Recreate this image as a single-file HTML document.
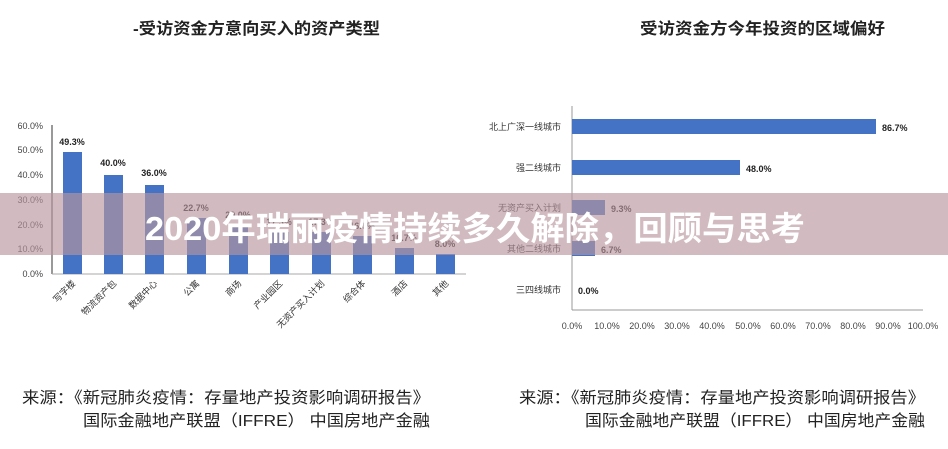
<!DOCTYPE html><html><head><meta charset="utf-8"><style>
body{margin:0;width:948px;height:449px;background:#fff;overflow:hidden;position:relative;font-family:"Liberation Sans","Noto Sans CJK SC",sans-serif}
</style></head><body>
<svg width="948" height="449" style="position:absolute;left:0;top:0" font-family="Liberation Sans, Noto Sans CJK SC, sans-serif">
<text x="133" y="34" font-size="16" font-weight="bold" fill="#222" textLength="247" lengthAdjust="spacingAndGlyphs">-受访资金方意向买入的资产类型</text>
<text x="640" y="34" font-size="16" font-weight="bold" fill="#222" textLength="245" lengthAdjust="spacingAndGlyphs">受访资金方今年投资的区域偏好</text>
<g font-size="9" fill="#444" text-anchor="end">
<text x="43" y="129">60.0%</text><text x="43" y="153">50.0%</text><text x="43" y="178">40.0%</text><text x="43" y="203">30.0%</text><text x="43" y="228">20.0%</text><text x="43" y="252">10.0%</text><text x="43" y="277">0.0%</text></g>
<line x1="52" y1="125" x2="52" y2="274" stroke="#333"/>
<line x1="52" y1="274" x2="466" y2="274" stroke="#aaa"/>
<g fill="#4472c4">
<rect x="63" y="152" width="19" height="122"/><rect x="104" y="175" width="19" height="99"/><rect x="145" y="185" width="19" height="89"/><rect x="187" y="218" width="19" height="56"/><rect x="229" y="225" width="19" height="49"/><rect x="270" y="232" width="19" height="42"/><rect x="312" y="232" width="19" height="42"/><rect x="353" y="236" width="19" height="38"/><rect x="395" y="248" width="19" height="26"/><rect x="436" y="254" width="19" height="20"/></g>
<g font-size="9" font-weight="bold" fill="#222" text-anchor="middle">
<text x="72" y="145">49.3%</text><text x="113" y="166">40.0%</text><text x="154" y="176">36.0%</text><text x="196" y="211">22.7%</text><text x="238" y="218">20.0%</text><text x="279" y="225">17.3%</text><text x="321" y="225">17.3%</text><text x="362" y="229">16.0%</text><text x="404" y="241">10.7%</text><text x="445" y="247">8.0%</text></g>
<g font-size="9" fill="#333" text-anchor="end">
<text transform="translate(76,284) rotate(-45)">写字楼</text><text transform="translate(117,284) rotate(-45)">物流资产包</text><text transform="translate(158,284) rotate(-45)">数据中心</text><text transform="translate(200,284) rotate(-45)">公寓</text><text transform="translate(242,284) rotate(-45)">商场</text><text transform="translate(283,284) rotate(-45)">产业园区</text><text transform="translate(325,284) rotate(-45)">无资产买入计划</text><text transform="translate(366,284) rotate(-45)">综合体</text><text transform="translate(408,284) rotate(-45)">酒店</text><text transform="translate(449,284) rotate(-45)">其他</text></g>
<line x1="572" y1="106" x2="572" y2="310" stroke="#999"/>
<line x1="572" y1="310" x2="923" y2="310" stroke="#999"/>
<g fill="#4472c4"><rect x="572" y="119" width="304" height="15"/><rect x="572" y="160" width="168" height="15"/><rect x="572" y="200" width="33" height="15"/><rect x="572" y="241" width="23" height="15"/></g>
<g font-size="9" fill="#333" text-anchor="end"><text x="561" y="130">北上广深一线城市</text><text x="561" y="171">强二线城市</text><text x="561" y="211">无资产买入计划</text><text x="561" y="252">其他二线城市</text><text x="561" y="293">三四线城市</text></g>
<g font-size="9" font-weight="bold" fill="#222"><text x="882" y="131">86.7%</text><text x="746" y="172">48.0%</text><text x="611" y="212">9.3%</text><text x="601" y="253">6.7%</text><text x="578" y="294">0.0%</text></g>
<g font-size="9" fill="#444" text-anchor="middle"><text x="572" y="329">0.0%</text><text x="607" y="329">10.0%</text><text x="642" y="329">20.0%</text><text x="677" y="329">30.0%</text><text x="712" y="329">40.0%</text><text x="748" y="329">50.0%</text><text x="783" y="329">60.0%</text><text x="818" y="329">70.0%</text><text x="853" y="329">80.0%</text><text x="888" y="329">90.0%</text><text x="923" y="329">100.0%</text></g>
<rect x="0" y="193" width="948" height="62" fill="rgba(185,150,158,0.65)"/>
<text x="145" y="240" font-size="33" font-weight="bold" fill="#fff" textLength="660" lengthAdjust="spacingAndGlyphs">2020年瑞丽疫情持续多久解除，回顾与思考</text>
<g font-size="16" fill="#222"><text x="22" y="403" textLength="408" lengthAdjust="spacingAndGlyphs">来源：《新冠肺炎疫情：存量地产投资影响调研报告》</text><text x="83" y="426" textLength="347" lengthAdjust="spacingAndGlyphs">国际金融地产联盟（IFFRE） 中国房地产金融</text>
<text x="519" y="403" textLength="406" lengthAdjust="spacingAndGlyphs">来源：《新冠肺炎疫情：存量地产投资影响调研报告》</text><text x="585" y="426" textLength="340" lengthAdjust="spacingAndGlyphs">国际金融地产联盟（IFFRE） 中国房地产金融</text></g>
</svg>
</body></html>
